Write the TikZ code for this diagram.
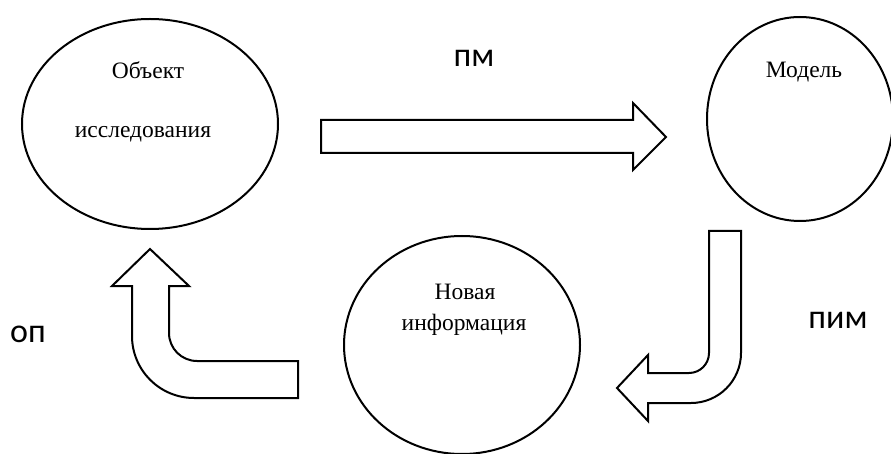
\documentclass[tikz,border=0pt]{standalone}
\usepackage{fontspec}
\setmainfont{Liberation Serif}
\newfontfamily\labelfont{Carlito}
\usetikzlibrary{shapes.geometric}
\tikzset{
  blob/.style={draw, ellipse, inner sep=0pt},
  caption/.style={anchor=base, inner sep=0pt, font=\fontsize{23.5}{28}\selectfont},
  tag/.style={anchor=base, inner sep=0pt, font=\labelfont\fontsize{34}{40}\selectfont},
  bigarrow/.style={draw, line join=miter}
}
\begin{document}
\begin{tikzpicture}[x=1pt, y=-1pt, line width=2pt]
      \useasboundingbox (0,0) rectangle (891,454);
      \draw
        (150,124) node[blob, minimum width=256pt, minimum height=210pt] (obj){}
        (800,119) node[blob, minimum width=186pt, minimum height=204pt] (mod){}
        (462,345) node[blob, minimum width=236pt, minimum height=218pt] (info){};
      \node[caption] (obj1) at (148,79) {Объект};
      \node[caption] (obj2) at (143,138) {исследования};
      \node[caption] (mod1) at (804,78) {Модель};
      \node[caption] (info1) at (465,299) {Новая};
      \node[caption] (info2) at (464,330) {информация};
      \node[tag] (pm) at (474,67) {пм};
      \node[tag] (pim) at (838,328) {пим};
      \node[tag] (op) at (28,342) {оп};
      \begin{scope}[bigarrow]
        \draw (321,120) -- (633,120) -- (633,103) -- (666,137) -- (633,170)
          -- (633,153) -- (321,153) -- cycle;
        \draw (709,231) -- (741,231) -- (741,353)
          arc[start angle=0, end angle=-90, radius=50pt] -- (648,403)
          -- (648,421) -- (617,388) -- (648,355) -- (648,373) -- (689,373)
          arc[start angle=-90, end angle=0, radius=20pt] -- cycle;
        \draw (150,249) -- (189,286) -- (169,286) -- (169,333)
          arc[start angle=180, end angle=270, radius=28pt] -- (298,361)
          -- (298,398) -- (194,398)
          arc[start angle=270, end angle=180, radius=62pt] -- (132,286)
          -- (112,286) -- cycle;
      \end{scope}
    \end{tikzpicture}
\end{document}
